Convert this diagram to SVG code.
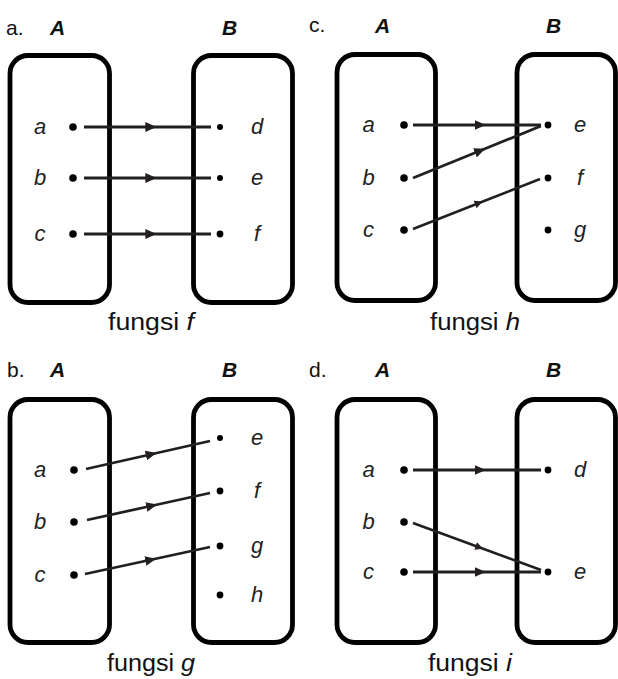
<svg xmlns="http://www.w3.org/2000/svg" width="618" height="679" viewBox="0 0 618 679">
<defs>
<marker id="ah" viewBox="0 0 10 9" refX="2" refY="4.5" markerWidth="11" markerHeight="10" markerUnits="userSpaceOnUse" orient="auto">
<path d="M0,0 L10,4.5 L0,9 Z" fill="#231f20"/>
</marker>
<marker id="tk" viewBox="0 0 8 8" refX="1.5" refY="4" markerWidth="8" markerHeight="8" markerUnits="userSpaceOnUse" orient="auto">
<path d="M0,0 L8,4 L0,8 Z" fill="#231f20"/>
</marker>
</defs>
<style>
.box{fill:#fff;stroke:#000;stroke-width:4.8}
.dot{fill:#000}
.ln{fill:none;stroke:#231f20;stroke-width:2.8;marker-mid:url(#ah)}
.lt{fill:none;stroke:#231f20;stroke-width:2.5;marker-mid:url(#tk)}
.lab{font-family:"Liberation Sans",Arial,sans-serif;font-style:italic;font-size:22px;fill:#222;text-anchor:middle}
.hd{font-family:"Liberation Sans",Arial,sans-serif;font-size:21px;fill:#111}
.set{font-family:"Liberation Sans",Arial,sans-serif;font-style:italic;font-weight:bold;font-size:21px;fill:#111}
.cap{font-family:"Liberation Sans",Arial,sans-serif;font-size:23px;fill:#111}
.it{font-style:italic}
</style>
<rect width="618" height="679" fill="#fff"/>

<!-- Panel a -->
<g id="panel-a">
<text class="hd" x="6" y="35">a.</text>
<text class="set" x="50" y="35">A</text>
<text class="set" x="222" y="35">B</text>
<g id="a-setA"><rect class="box" x="10" y="55.5" width="99.5" height="247" rx="18"/>
<circle class="dot" cx="73" cy="127" r="3.8"/><circle class="dot" cx="73" cy="178" r="3.8"/><circle class="dot" cx="73" cy="234" r="3.8"/>
<text class="lab" x="40" y="134">a</text><text class="lab" x="40" y="185">b</text><text class="lab" x="40" y="241">c</text></g>
<g id="a-setB"><rect class="box" x="193.5" y="55.5" width="99" height="247" rx="18"/>
<circle class="dot" cx="220" cy="127" r="3"/><circle class="dot" cx="220" cy="178" r="3"/><circle class="dot" cx="220" cy="234" r="3.4"/>
<text class="lab" x="257" y="134">d</text><text class="lab" x="257" y="185">e</text><text class="lab" x="257" y="241">f</text></g>
<text class="cap" x="108" y="330" textLength="86" lengthAdjust="spacingAndGlyphs">fungsi <tspan class="it">f</tspan></text>
</g>

<!-- Panel c -->
<g id="panel-c">
<text class="hd" x="309" y="32">c.</text>
<text class="set" x="375" y="33">A</text>
<text class="set" x="546" y="33">B</text>
<g id="c-setA"><rect class="box" x="337" y="54.5" width="98.5" height="246" rx="18"/>
<circle class="dot" cx="404" cy="125" r="3.8"/><circle class="dot" cx="404" cy="178" r="3.8"/><circle class="dot" cx="404" cy="230" r="3.8"/>
<text class="lab" x="368.5" y="132">a</text><text class="lab" x="368.5" y="185">b</text><text class="lab" x="368.5" y="237">c</text></g>
<g id="c-setB"><rect class="box" x="517" y="54.5" width="98.5" height="246" rx="18"/>
<circle class="dot" cx="548" cy="125" r="3.4"/><circle class="dot" cx="548" cy="178" r="3.4"/><circle class="dot" cx="548" cy="230" r="3.4"/>
<text class="lab" x="580" y="132">e</text><text class="lab" x="580" y="185">f</text><text class="lab" x="580" y="237">g</text></g>
<text class="cap" x="430" y="330" textLength="90" lengthAdjust="spacingAndGlyphs">fungsi <tspan class="it">h</tspan></text>
</g>

<!-- Panel b -->
<g id="panel-b">
<text class="hd" x="7" y="377">b.</text>
<text class="set" x="50" y="377">A</text>
<text class="set" x="222" y="377">B</text>
<g id="b-setA"><rect class="box" x="10" y="399.5" width="99.5" height="243" rx="18"/>
<circle class="dot" cx="74" cy="470" r="3.8"/><circle class="dot" cx="74" cy="522" r="3.8"/><circle class="dot" cx="74" cy="575" r="3.8"/>
<text class="lab" x="40" y="477">a</text><text class="lab" x="40" y="529">b</text><text class="lab" x="40" y="582">c</text></g>
<g id="b-setB"><rect class="box" x="193.5" y="399.5" width="99" height="243" rx="18"/>
<circle class="dot" cx="220" cy="438" r="3"/><circle class="dot" cx="220" cy="491" r="3.4"/><circle class="dot" cx="220" cy="546" r="3.4"/><circle class="dot" cx="220" cy="595" r="3.4"/>
<text class="lab" x="257" y="445">e</text><text class="lab" x="257" y="498">f</text><text class="lab" x="257" y="553">g</text><text class="lab" x="257" y="602">h</text></g>
<text class="cap" x="107" y="671" textLength="88" lengthAdjust="spacingAndGlyphs">fungsi <tspan class="it">g</tspan></text>
</g>

<!-- Panel d -->
<g id="panel-d">
<text class="hd" x="309" y="377">d.</text>
<text class="set" x="375" y="377">A</text>
<text class="set" x="546" y="377">B</text>
<g id="d-setA"><rect class="box" x="337" y="399.5" width="98.5" height="243" rx="18"/>
<circle class="dot" cx="404" cy="470" r="3.8"/><circle class="dot" cx="404" cy="522" r="3.8"/><circle class="dot" cx="404" cy="572" r="3.8"/>
<text class="lab" x="368.5" y="477">a</text><text class="lab" x="368.5" y="529">b</text><text class="lab" x="368.5" y="579">c</text></g>
<g id="d-setB"><rect class="box" x="517" y="399.5" width="98.5" height="243" rx="18"/>
<circle class="dot" cx="548" cy="470" r="3.4"/><circle class="dot" cx="548" cy="572" r="3.4"/>
<text class="lab" x="580" y="477">d</text><text class="lab" x="580" y="579">e</text></g>
<text class="cap" x="428" y="671" textLength="84" lengthAdjust="spacingAndGlyphs">fungsi <tspan class="it">i</tspan></text>
</g>

<!-- Connectors -->
<g id="connectors">
<polyline class="ln" points="84,127 147.5,127 211,127"/>
<polyline class="ln" points="84,178 147.5,178 211,178"/>
<polyline class="ln" points="84,234 147.5,234 211,234"/>
<polyline class="ln" points="413,125 477,125 541,125"/>
<polyline class="ln" points="413,178 477,152 541,126"/>
<polyline class="lt" points="413,229 476.5,204 540,179"/>
<polyline class="ln" points="86,469 148,455 210,441"/>
<polyline class="ln" points="87,520 148.5,506.5 210,493"/>
<polyline class="ln" points="85,574 147.5,560.5 210,547"/>
<polyline class="ln" points="413,470 477,470 541,470"/>
<polyline class="lt" points="413,523 477,546.5 541,570"/>
<polyline class="ln" points="413,572 477,572 541,572"/>
</g>
</svg>
